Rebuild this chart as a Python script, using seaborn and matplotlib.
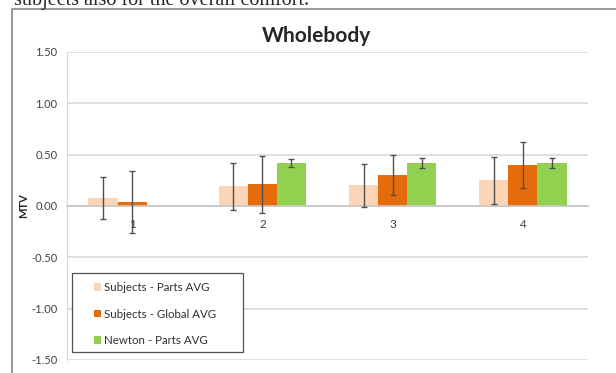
import matplotlib
matplotlib.use("Agg")
import matplotlib.pyplot as plt
import numpy as np
import pandas as pd
import seaborn as sns
from matplotlib.patches import Rectangle

# values
categories = ["1", "2", "3", "4"]
series = ["Subjects - Parts AVG", "Subjects - Global AVG", "Newton - Parts AVG"]
parts_avg = [0.08, 0.19, 0.20, 0.25]
parts_err = [0.205, 0.23, 0.205, 0.23]
global_avg = [0.04, 0.21, 0.30, 0.40]
global_err = [0.305, 0.275, 0.195, 0.22]
newton_avg = [np.nan, 0.42, 0.42, 0.42]
newton_err = [np.nan, 0.04, 0.045, 0.045]
yticks = [-1.5, -1.0, -0.5, 0.0, 0.5, 1.0, 1.5]

colors = ["#FBD5B5", "#E46C0A", "#92D050"]

rows = []
for name, vals, errs in zip(series, [parts_avg, global_avg, newton_avg],
                            [parts_err, global_err, newton_err]):
    for cat, v, e in zip(categories, vals, errs):
        if not np.isnan(v):
            rows.append({"cat": cat, "series": name, "value": v, "err": e})
df = pd.DataFrame(rows)

sns.set_style("white")
plt.rcParams["font.family"] = ["Lato", "DejaVu Sans"]

W, H = 616, 373
fig = plt.figure(figsize=(W / 100, H / 100), dpi=100)
ax = fig.add_axes([67 / W, 1 - 360 / H, (588 - 67) / W, (360 - 52) / H])

sns.barplot(data=df, x="cat", y="value", hue="series", order=categories,
            hue_order=series, palette=colors, width=0.67, errorbar=None,
            saturation=1, linewidth=0, ax=ax, zorder=2)

# error bars at the centres of the bars seaborn drew
for container, name in zip(ax.containers, series):
    sub = df[df["series"] == name]
    xs = [p.get_x() + p.get_width() / 2 for p in container.patches]
    ax.errorbar(xs, sub["value"].values, yerr=sub["err"].values, fmt="none",
                ecolor="#505050", elinewidth=1.0, capsize=2.5, capthick=1.0,
                zorder=3)

ax.set_ylim(-1.5, 1.5)
ax.set_xlim(-0.5, len(categories) - 0.5)
ax.set_yticks(yticks)
ax.set_yticklabels([f"{t:.2f}" for t in yticks], fontsize=8, color="#404040")
ax.yaxis.grid(True, color="#D9D9D9", linewidth=1.2, zorder=0)
ax.set_axisbelow(True)
ax.tick_params(axis="y", length=5, color="#D9D9D9", width=1, pad=2)

ax.spines["top"].set_visible(False)
ax.spines["right"].set_visible(False)
ax.spines["left"].set_color("#D9D9D9")
ax.spines["bottom"].set_position(("data", 0))
ax.spines["bottom"].set_color("#C8C8C8")
ax.spines["bottom"].set_linewidth(1.2)
ax.set_xticks(range(len(categories)))
ax.set_xticklabels(categories, fontsize=8.5, color="#404040")
ax.set_xticks(np.arange(-0.5, len(categories), 1), minor=True)
ax.tick_params(axis="x", which="major", length=0, pad=9)
ax.tick_params(axis="x", which="minor", length=4, color="#C8C8C8", direction="out")

ax.set_xlabel("")
ax.set_ylabel("MTV", fontsize=8, fontweight="bold")
ax.yaxis.set_label_coords(-(67 - 29) / (588 - 67), 0.5)

# legend without its own frame, boxed by a separate rectangle
leg = ax.legend(loc="upper left", bbox_to_anchor=(94 / W, 1 - 282 / H),
                bbox_transform=fig.transFigure, fontsize=8.3, frameon=False,
                handlelength=0.6, handleheight=0.6, handletextpad=0.3,
                labelspacing=1.35, borderpad=0, borderaxespad=0)
for t in leg.get_texts():
    t.set_color("#303030")
leg.set_zorder(6)
ax.add_patch(Rectangle((72 / W, 1 - 352 / H), (243 - 72) / W, (352 - 273) / H,
                       transform=fig.transFigure, facecolor="white",
                       edgecolor="#505050", linewidth=0.9, zorder=5,
                       clip_on=False))

# chart area border and title
fig.patches.append(Rectangle((12 / W, -0.05), 1.0, 1 - 9 / H + 0.05,
                             transform=fig.transFigure, fill=False,
                             edgecolor="#888888", linewidth=1.2))
fig.text(316 / W, 1 - 36 / H, "Wholebody", ha="center", va="center",
         fontsize=15, fontweight="bold")

# cut-off line of document text above the chart
fig.text(14 / W, 1 - 5 / H, "subjects also for the overall comfort.",
         ha="left", va="baseline", fontsize=14.5, family="Liberation Serif")

fig.savefig("out.png", dpi=100)
